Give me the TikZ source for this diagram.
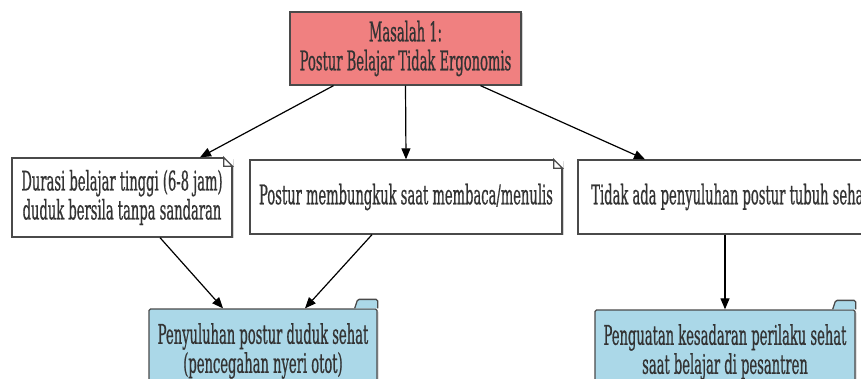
\documentclass[tikz,border=0pt]{standalone}
\usepackage{fontspec}
\setmainfont{DejaVu Serif}[FakeStretch=0.485,FakeBold=0.6]
\usetikzlibrary{arrows.meta,shadows,calc}

\definecolor{masalahred}{HTML}{F08080}
\definecolor{solusiblue}{HTML}{ABD8E8}
\definecolor{boxline}{HTML}{4A4A4A}

\begin{document}
\begin{tikzpicture}[x=1pt,y=-1pt,
  txt/.style={font=\fontsize{27}{29}\selectfont, text=black!80, align=center, inner sep=0pt},
  box/.style={txt, draw=boxline, line width=1.3pt,
    drop shadow={shadow xshift=1.5pt, shadow yshift=-1.5pt, opacity=0.35}},
  notebox/.style={box, fill=white},
  folderbox/.style={box, fill=solusiblue, rounded corners=1.5pt},
  conn/.style={-{Triangle[length=11pt,width=9pt]}, line width=1.2pt, black}]
\useasboundingbox (0,0) rectangle (861,379);
\clip (0,0) rectangle (861,379);

% Masalah
\node[box, fill=masalahred, minimum width=231pt, minimum height=73pt] (masalah) at (405.5,48.5)
  {Masalah 1:\\Postur Belajar Tidak Ergonomis};

% Penyebab
\node[notebox, minimum width=220pt, minimum height=79pt] (durasi) at (122,197.5)
  {Durasi belajar tinggi (6-8 jam)\\duduk bersila tanpa sandaran};
\node[notebox, minimum width=312pt, minimum height=74pt] (bungkuk) at (406,197)
  {Postur membungkuk saat membaca/menulis};
\node[notebox, minimum width=304pt, minimum height=74pt] (penyuluhan) at (730,197)
  {Tidak ada penyuluhan postur tubuh sehat};

% dog-ears
\foreach \n in {durasi,bungkuk,penyuluhan}{
  \fill[white] ([xshift=-9pt]\n.north east) -- ([xshift=1pt,yshift=1pt]\n.north east) -- ([yshift=-9pt]\n.north east) -- cycle;
  \draw[boxline, line width=1.2pt] ([xshift=-9pt]\n.north east) -- ([yshift=-9pt]\n.north east)
    -- ([xshift=-9pt,yshift=-9pt]\n.north east) -- cycle;
}

% Solusi
\node[folderbox, minimum width=228pt, minimum height=84pt] (solusi1) at (263,351)
  {Penyuluhan postur duduk sehat\\(pencegahan nyeri otot)};
\node[folderbox, minimum width=260pt, minimum height=84pt] (solusi2) at (725,352)
  {Penguatan kesadaran perilaku sehat\\saat belajar di pesantren};

% folder tabs
\foreach \n in {solusi1,solusi2}{
  \draw[fill=solusiblue, draw=boxline, line width=1.3pt, rounded corners=1.5pt]
    ([xshift=-23pt]\n.north east) -- ([xshift=-20pt,yshift=9pt]\n.north east)
    -- ([yshift=9pt]\n.north east) -- (\n.north east);
}

% panah
\draw[conn] ([xshift=-72pt]masalah.south) -- ([xshift=78pt]durasi.north);
\draw[conn] (masalah.south) -- (bungkuk.north);
\draw[conn] ([xshift=75pt]masalah.south) -- ([xshift=-85pt]penyuluhan.north);
\draw[conn] ([xshift=38pt]durasi.south) -- ([xshift=-40pt]solusi1.north);
\draw[conn] ([xshift=-34pt]bungkuk.south) -- ([xshift=42pt]solusi1.north);
\draw[conn] (penyuluhan.south -| solusi2.north) -- (solusi2.north);
\end{tikzpicture}
\end{document}
